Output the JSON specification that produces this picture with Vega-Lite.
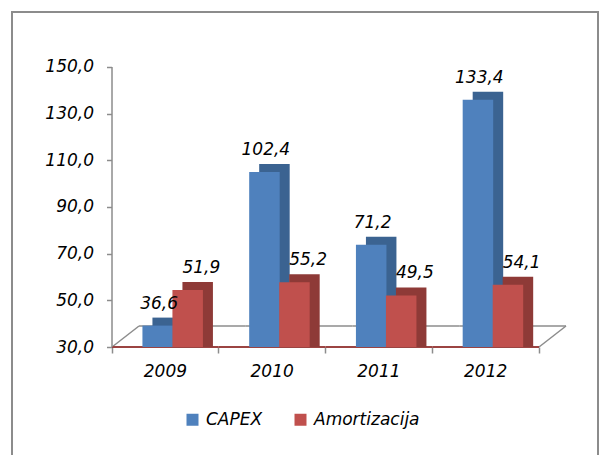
{
  "$schema": "https://vega.github.io/schema/vega-lite/v6.json",
  "width": 586,
  "height": 449,
  "autosize": {"type": "none"},
  "padding": {"left": 12, "top": 12, "right": 10, "bottom": -6},
  "background": "white",
  "config": {
    "locale": {"number": {"decimal": ",", "thousands": ".", "grouping": [3], "currency": ["", ""]}},
    "view": {"stroke": "#8c8c8c", "strokeWidth": 2},
    "font": "DejaVu Sans"
  },
  "data": {"values": [
    {"year": "2009", "series": "CAPEX", "value": 36.6},
    {"year": "2009", "series": "Amortizacija", "value": 51.9},
    {"year": "2010", "series": "CAPEX", "value": 102.4},
    {"year": "2010", "series": "Amortizacija", "value": 55.2},
    {"year": "2011", "series": "CAPEX", "value": 71.2},
    {"year": "2011", "series": "Amortizacija", "value": 49.5},
    {"year": "2012", "series": "CAPEX", "value": 133.4},
    {"year": "2012", "series": "Amortizacija", "value": 54.1}
  ]},
  "layer": [
    {
      "transform": [{"filter": "datum.series === 'CAPEX'"}],
      "mark": {"type": "tick", "size": 106.75, "thickness": 1.5, "color": "#8c8c8c", "xOffset": 27, "yOffset": -21, "opacity": 1},
      "encoding": {
        "x": {"field": "year", "type": "nominal", "scale": {"type": "band", "domain": ["2009", "2010", "2011", "2012"], "paddingInner": 0, "paddingOuter": 0.7447, "align": 0.629},
          "axis": {"orient": "bottom", "offset": -114, "domain": false, "bandPosition": 1, "tickExtra": true, "tickSize": 6, "tickColor": "#8c8c8c", "tickWidth": 1.5, "labelPadding": 10, "labelFontSize": 17, "labelFontStyle": "italic", "labelFont": "DejaVu Sans", "labelColor": "black", "labelAngle": 0, "title": null, "grid": false}},
        "y": {"datum": 30, "type": "quantitative", "scale": {"domain": [-18.857, 173.571], "nice": false, "zero": false},
          "axis": {"orient": "left", "offset": -99.5, "values": [30, 50, 70, 90, 110, 130, 150], "format": ".1f", "domain": false, "tickSize": 5, "tickColor": "#8c8c8c", "tickWidth": 1.5, "labelPadding": 13, "labelFontSize": 17, "labelFontStyle": "italic", "labelFont": "DejaVu Sans", "labelColor": "black", "title": null, "grid": false}}
      }
    },
    {
      "transform": [{"filter": "datum.series === 'CAPEX' && datum.year === '2009'"}],
      "mark": {"type": "rule", "color": "#8c8c8c", "strokeWidth": 1.5, "xOffset": -53.375, "x2Offset": -26.375, "y2Offset": -21},
      "encoding": {
        "x": {"field": "year", "type": "nominal"},
        "x2": {"field": "year"},
        "y": {"datum": 30, "type": "quantitative"},
        "y2": {"datum": 30}
      }
    },
    {
      "transform": [{"filter": "datum.series === 'CAPEX' && datum.year === '2012'"}],
      "mark": {"type": "rule", "color": "#8c8c8c", "strokeWidth": 1.5, "xOffset": 53.375, "x2Offset": 80.375, "y2Offset": -21},
      "encoding": {
        "x": {"field": "year", "type": "nominal"},
        "x2": {"field": "year"},
        "y": {"datum": 30, "type": "quantitative"},
        "y2": {"datum": 30}
      }
    },
    {
      "transform": [{"filter": "datum.series === 'CAPEX'"}],
      "mark": {"type": "tick", "size": 106.75, "thickness": 2, "color": "#9B4442", "opacity": 1},
      "encoding": {
        "x": {"field": "year", "type": "nominal"},
        "y": {"datum": 30, "type": "quantitative"}
      }
    },
    {
      "transform": [{"filter": "datum.series === 'CAPEX' && datum.year === '2009'"}],
      "mark": {"type": "rule", "color": "#8c8c8c", "strokeWidth": 1.5, "xOffset": -53.375},
      "encoding": {
        "x": {"field": "year", "type": "nominal"},
        "y": {"datum": 30, "type": "quantitative"},
        "y2": {"datum": 150}
      }
    },
    {
      "transform": [{"filter": "datum.series === 'CAPEX'"}],
      "mark": {"type": "bar", "width": 30.5, "xOffset": 2.3, "yOffset": -14, "color": "#3B6391"},
      "encoding": {
        "x": {"field": "year", "type": "nominal"},
        "y": {"field": "value", "type": "quantitative"},
        "y2": {"datum": 30}
      }
    },
    {
      "transform": [{"filter": "datum.series === 'Amortizacija'"}],
      "mark": {"type": "bar", "width": 30.5, "xOffset": 32.3, "yOffset": -14, "color": "#8E3A37"},
      "encoding": {
        "x": {"field": "year", "type": "nominal"},
        "y": {"field": "value", "type": "quantitative"},
        "y2": {"datum": 30}
      }
    },
    {
      "transform": [{"filter": "datum.series === 'CAPEX'"}],
      "mark": {"type": "bar", "width": 30.5, "xOffset": -7.7, "yOffset": -6},
      "encoding": {
        "x": {"field": "year", "type": "nominal"},
        "y": {"field": "value", "type": "quantitative"},
        "y2": {"datum": 30},
        "color": {"field": "series", "type": "nominal", "scale": {"domain": ["CAPEX", "Amortizacija"], "range": ["#4F81BD", "#C0504D"]},
          "legend": {"orient": "none", "legendX": 172, "legendY": 399, "direction": "horizontal", "title": null, "symbolType": "square", "symbolSize": 144, "symbolStrokeWidth": 0, "symbolOpacity": 1, "labelFontSize": 17, "labelFontStyle": "italic", "labelFont": "DejaVu Sans", "labelColor": "black", "labelOffset": 5, "columnPadding": 29, "padding": 0}}
      }
    },
    {
      "transform": [{"filter": "datum.series === 'Amortizacija'"}],
      "mark": {"type": "bar", "width": 30.5, "xOffset": 22.3, "yOffset": -6},
      "encoding": {
        "x": {"field": "year", "type": "nominal"},
        "y": {"field": "value", "type": "quantitative"},
        "y2": {"datum": 30},
        "color": {"field": "series", "type": "nominal", "scale": {"domain": ["CAPEX", "Amortizacija"], "range": ["#4F81BD", "#C0504D"]},
          "legend": {"orient": "none", "legendX": 172, "legendY": 399, "direction": "horizontal", "title": null, "symbolType": "square", "symbolSize": 144, "symbolStrokeWidth": 0, "symbolOpacity": 1, "labelFontSize": 17, "labelFontStyle": "italic", "labelFont": "DejaVu Sans", "labelColor": "black", "labelOffset": 5, "columnPadding": 29, "padding": 0}}
      }
    },
    {
      "transform": [{"filter": "datum.series === 'CAPEX'"}],
      "mark": {"type": "text", "dx": -6.3, "dy": -23, "baseline": "alphabetic", "align": "center", "fontSize": 17, "fontStyle": "italic", "font": "DejaVu Sans", "color": "black"},
      "encoding": {
        "x": {"field": "year", "type": "nominal"},
        "y": {"field": "value", "type": "quantitative"},
        "text": {"field": "value", "type": "quantitative", "format": ".1f"}
      }
    },
    {
      "transform": [{"filter": "datum.series === 'Amortizacija'"}],
      "mark": {"type": "text", "dx": 36, "dy": -23, "baseline": "alphabetic", "align": "center", "fontSize": 17, "fontStyle": "italic", "font": "DejaVu Sans", "color": "black"},
      "encoding": {
        "x": {"field": "year", "type": "nominal"},
        "y": {"field": "value", "type": "quantitative"},
        "text": {"field": "value", "type": "quantitative", "format": ".1f"}
      }
    }
  ]
}
